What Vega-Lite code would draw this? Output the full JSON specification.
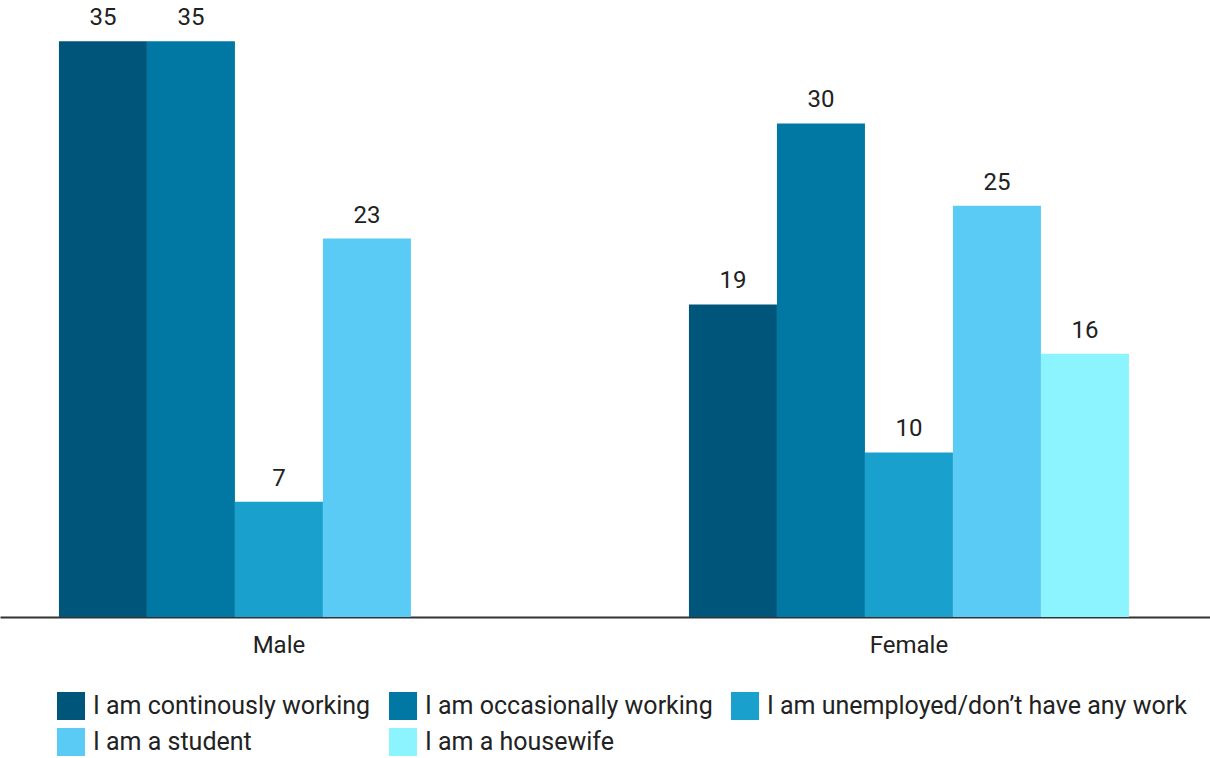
{
  "$schema": "https://vega.github.io/schema/vega-lite/v6.json",
  "width": 1210,
  "height": 617,
  "autosize": {"type": "none"},
  "padding": {"left": 0, "top": 0, "right": 0, "bottom": 141},
  "config": {
    "font": "Roboto",
    "view": {"stroke": null},
    "text": {"font": "Roboto"}
  },
  "data": {
    "values": [
      {"gender": "Male", "status": "I am continously working", "value": 35},
      {"gender": "Male", "status": "I am occasionally working", "value": 35},
      {"gender": "Male", "status": "I am unemployed/don’t have any work", "value": 7},
      {"gender": "Male", "status": "I am a student", "value": 23},
      {"gender": "Female", "status": "I am continously working", "value": 19},
      {"gender": "Female", "status": "I am occasionally working", "value": 30},
      {"gender": "Female", "status": "I am unemployed/don’t have any work", "value": 10},
      {"gender": "Female", "status": "I am a student", "value": 25},
      {"gender": "Female", "status": "I am a housewife", "value": 16}
    ]
  },
  "encoding": {
    "x": {
      "field": "gender",
      "type": "nominal",
      "sort": ["Male", "Female"],
      "scale": {"paddingInner": 0.3016, "paddingOuter": 0.1111, "align": 0.421},
      "axis": {
        "title": null,
        "labelAngle": 0,
        "labelFontSize": 24,
        "labelColor": "#222222",
        "labelFont": "Roboto",
        "labelPadding": 16,
        "ticks": false,
        "domainColor": "#333333",
        "domainWidth": 2
      }
    },
    "xOffset": {
      "field": "status",
      "type": "nominal",
      "sort": ["I am continously working", "I am occasionally working", "I am unemployed/don’t have any work", "I am a student", "I am a housewife"],
      "scale": {"domain": ["I am continously working", "I am occasionally working", "I am unemployed/don’t have any work", "I am a student", "I am a housewife"], "paddingInner": 0, "paddingOuter": 0}
    },
    "y": {
      "field": "value",
      "type": "quantitative",
      "scale": {"domain": [0, 37.5], "nice": false},
      "axis": null
    }
  },
  "layer": [
    {
      "mark": {"type": "bar"},
      "encoding": {
        "color": {
          "field": "status",
          "type": "nominal",
          "scale": {
            "domain": ["I am continously working", "I am occasionally working", "I am unemployed/don’t have any work", "I am a student", "I am a housewife"],
            "range": ["#00557a", "#0078a3", "#1aa0cc", "#59cbf5", "#8cf4ff"]
          },
          "legend": {
            "title": null,
            "orient": "none",
            "direction": "horizontal",
            "legendX": 57,
            "legendY": 692,
            "columns": 3,
            "symbolType": "square",
            "symbolSize": 784,
            "symbolStrokeWidth": 0,
            "labelFontSize": 25,
            "labelFont": "Roboto",
            "labelColor": "#222222",
            "labelLimit": 500,
            "labelOffset": 8,
            "rowPadding": 8,
            "columnPadding": 18
          }
        }
      }
    },
    {
      "mark": {"type": "text", "baseline": "bottom", "dy": -11, "fontSize": 24, "color": "#222222", "font": "Roboto"},
      "encoding": {"text": {"field": "value", "type": "quantitative"}}
    }
  ]
}
